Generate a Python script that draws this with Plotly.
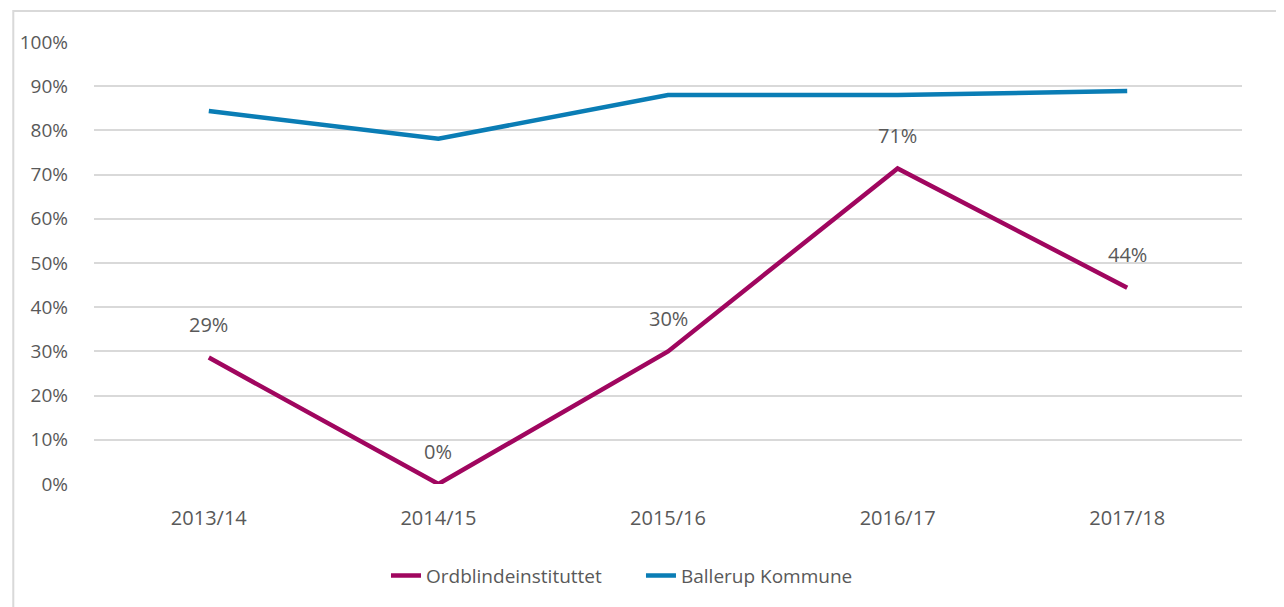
import plotly.graph_objects as go

years = ["2013/14", "2014/15", "2015/16", "2016/17", "2017/18"]
ordblinde = [0.286, 0.0, 0.30, 0.714, 0.444]
ordblinde_labels = ["29%", "0%", "30%", "71%", "44%"]
ballerup = [0.844, 0.781, 0.880, 0.880, 0.889]

purple = "#A0065F"
blue = "#0A7DB5"
text_color = "#595959"
font_family = "Open Sans, Noto Sans, sans-serif"
fs = 19

fig = go.Figure()
fig.add_trace(go.Scatter(x=years, y=ordblinde, mode="lines", name="Ordblindeinstituttet",
                         line=dict(color=purple, width=4.5)))
fig.add_trace(go.Scatter(x=years, y=ballerup, mode="lines", name="Ballerup Kommune",
                         line=dict(color=blue, width=4.5)))

for x, y, t in zip(years, ordblinde, ordblinde_labels):
    fig.add_annotation(x=x, y=y, text=t, showarrow=False, yshift=33,
                       font=dict(size=20, color=text_color, family=font_family))

# outer chart border (top and left visible)
fig.add_shape(type="rect", xref="paper", yref="paper",
              x0=(9 - 90) / 1152, x1=1.2, y0=-0.5, y1=1 + (42 - 11) / 443,
              line=dict(color="#D9D9D9", width=2), layer="below")

fig.update_layout(
    width=1276, height=599,
    margin=dict(l=82, r=42, t=34, b=122),
    paper_bgcolor="white", plot_bgcolor="white",
    font=dict(family=font_family, size=fs, color=text_color),
    showlegend=True,
    legend=dict(orientation="h", x=(383 - 90) / 1152, xanchor="left", y=-0.2075, yanchor="middle",
                font=dict(size=fs, color=text_color),
                entrywidth=210, entrywidthmode="pixels"),
    xaxis=dict(showgrid=False, showline=False, ticks="", tickfont=dict(size=20),
               range=[-0.5, 4.5], ticklabelstandoff=20),
    yaxis=dict(range=[0, 1], dtick=0.1, tickformat=".0%", showgrid=True,
               gridcolor="#D9D9D9", gridwidth=1.5, zeroline=False, showline=False,
               ticks="", tickfont=dict(size=fs), ticklabelstandoff=25),
)

fig.write_html("out.html")
